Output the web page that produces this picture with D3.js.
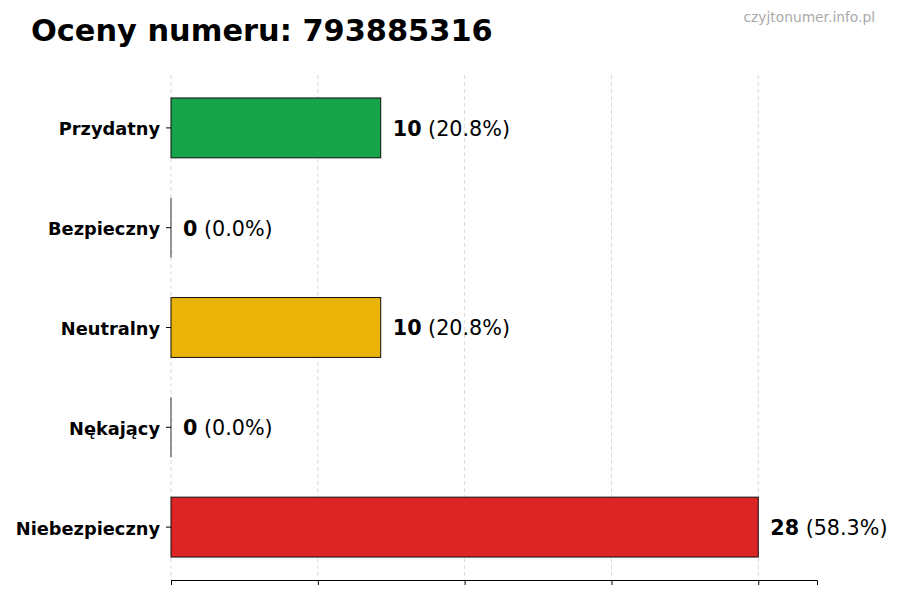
<!DOCTYPE html>
<html>
<head>
<meta charset="utf-8">
<script src="https://cdn.jsdelivr.net/npm/d3@7"></script>
<style>
  body { margin: 0; background: #fff; }
  svg { font-family: "DejaVu Sans", sans-serif; }
</style>
</head>
<body>
<svg width="900" height="600"></svg>
<script>
const CATEGORIES = ['Przydatny', 'Bezpieczny', 'Neutralny', 'Nękający', 'Niebezpieczny'];
const COUNTS = [10, 0, 10, 0, 28];
const COLORS = ['#16a34a', '#9ca3af', '#eab308', '#f97316', '#dc2626'];
const X_TICKS = [0, 7, 14, 21, 28];
const TITLE = 'Oceny numeru: 793885316';
const WATERMARK = 'czyjtonumer.info.pl';

const MARGIN = { top: 75, left: 171, right: 83, bottom: 20 };
const WIDTH = 900, HEIGHT = 600;
const total = d3.sum(COUNTS);

const svg = d3.select('svg');

const x = d3.scaleLinear()
    .domain([0, d3.max(COUNTS) * 1.1])
    .range([MARGIN.left, WIDTH - MARGIN.right]);

const y = d3.scaleBand()
    .domain(CATEGORIES)
    .range([MARGIN.top, HEIGHT - MARGIN.bottom])
    .paddingInner(0.4)
    .paddingOuter(0.23);

// gridlines
svg.append('g')
    .selectAll('line')
    .data(X_TICKS)
    .enter()
    .append('line')
    .attr('x1', d => x(d)).attr('x2', d => x(d))
    .attr('y1', MARGIN.top).attr('y2', HEIGHT - MARGIN.bottom)
    .attr('stroke', '#d0d0d0')
    .attr('stroke-width', 0.8)
    .attr('stroke-dasharray', '4,3');

// bars
svg.append('g')
    .selectAll('rect')
    .data(CATEGORIES)
    .enter()
    .append('rect')
    .attr('x', x(0))
    .attr('y', d => y(d))
    .attr('width', (d, i) => x(COUNTS[i]) - x(0))
    .attr('height', y.bandwidth())
    .attr('fill', (d, i) => COLORS[i])
    .attr('stroke', '#111')
    .attr('stroke-width', 1);

// zero-width bars still show their edge
svg.append('g')
    .selectAll('line')
    .data(CATEGORIES.filter((d, i) => COUNTS[i] === 0))
    .enter()
    .append('line')
    .attr('x1', x(0)).attr('x2', x(0))
    .attr('y1', d => y(d)).attr('y2', d => y(d) + y.bandwidth())
    .attr('stroke', '#333')
    .attr('stroke-width', 1);

// bottom axis, ticks only
const xAxis = svg.append('g')
    .attr('transform', `translate(0,${HEIGHT - MARGIN.bottom})`)
    .call(d3.axisBottom(x).tickValues(X_TICKS).tickFormat('').tickSizeOuter(0).tickSize(5));
xAxis.select('.domain').attr('stroke', '#000');
xAxis.selectAll('.tick line').attr('stroke', '#000');

// left axis: ticks and labels, no line
const yAxis = svg.append('g')
    .attr('transform', `translate(${MARGIN.left},0)`)
    .call(d3.axisLeft(y).tickSize(5).tickPadding(6));
yAxis.select('.domain').remove();
yAxis.selectAll('.tick line').attr('stroke', '#000');
yAxis.selectAll('.tick text')
    .attr('font-family', '"DejaVu Sans", sans-serif')
    .attr('font-size', 17.8)
    .attr('font-weight', 'bold')
    .attr('dy', '0.42em')
    .attr('fill', '#000');

// value labels
const labels = svg.append('g')
    .selectAll('text')
    .data(CATEGORIES)
    .enter()
    .append('text')
    .attr('x', (d, i) => x(COUNTS[i]) + 12)
    .attr('y', d => y(d) + y.bandwidth() / 2)
    .attr('dy', '0.38em')
    .attr('font-size', 20.7)
    .attr('fill', '#000');
labels.append('tspan')
    .attr('font-weight', 'bold')
    .text((d, i) => COUNTS[i]);
labels.append('tspan')
    .text((d, i) => ' (' + (COUNTS[i] / total * 100).toFixed(1) + '%)');

// title
svg.append('text')
    .attr('x', 31)
    .attr('y', 41)
    .attr('font-size', 30.4)
    .attr('font-weight', 'bold')
    .attr('fill', '#000')
    .text(TITLE);

svg.append('text')
    .attr('x', 875)
    .attr('y', 22)
    .attr('text-anchor', 'end')
    .attr('font-size', 13.8)
    .attr('fill', '#aaa')
    .text(WATERMARK);
</script>
</body>
</html>
